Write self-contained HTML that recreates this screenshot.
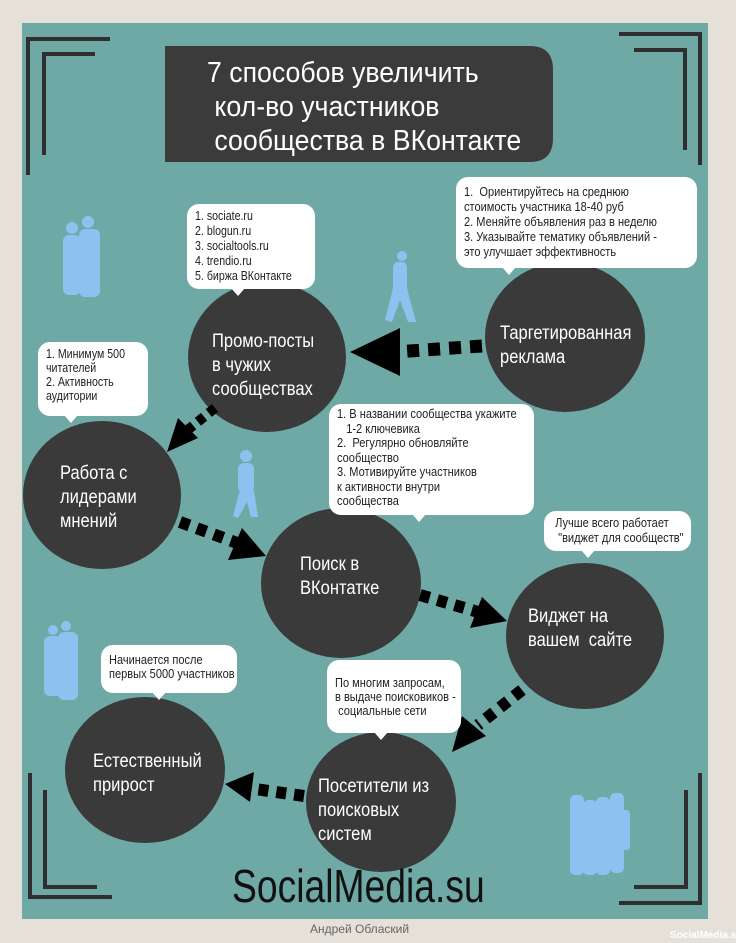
<!DOCTYPE html>
<html><head><meta charset="utf-8"><style>
*{margin:0;padding:0;box-sizing:border-box}
body{width:736px;height:943px;background:#e6e1d8;position:relative;overflow:hidden;font-family:"Liberation Sans",sans-serif}
#panel{position:absolute;left:22px;top:23px;width:686px;height:896px;background:#6fa9a6}
.t{position:absolute;white-space:nowrap;transform:scaleX(.87);transform-origin:0 0}
.ct{color:#fff;font-size:19px;line-height:24px}
.b{position:absolute;background:#fff;border-radius:12px;font-size:12px;line-height:15px;color:#222;padding:6px 8px}
.b span{display:block;white-space:nowrap;transform:scaleX(.85);transform-origin:0 0}
.b:after{content:"";position:absolute;bottom:-7px;left:var(--tx,50%);border-left:7px solid transparent;border-right:7px solid transparent;border-top:8px solid #fff;margin-left:-7px}
</style></head><body>
<div id="panel"></div>
<svg width="736" height="943" style="position:absolute;left:0;top:0">
<g fill="none" stroke="#2f2f2f" stroke-width="4">
<polyline points="110,39 28,39 28,175"/><polyline points="95,54 44,54 44,155"/>
<polyline points="619,34 700,34 700,165"/><polyline points="634,50 685,50 685,150"/>
<polyline points="30,773 30,897 112,897"/><polyline points="45,790 45,887 97,887"/>
<polyline points="700,773 700,903 619,903"/><polyline points="686,790 686,887 634,887"/>
</g>
<path d="M165,46 H530 Q553,46 553,70 V138 Q553,162 530,162 H165 Z" fill="#3b3b3b"/>
<g fill="#8ec0f0">
<circle cx="72" cy="228" r="6"/><rect x="63" y="235" width="18" height="60" rx="6"/>
<circle cx="88" cy="222" r="6"/><rect x="79" y="229" width="21" height="68" rx="6"/>
<circle cx="402" cy="256" r="5"/><rect x="393" y="262" width="14" height="30" rx="5"/><polygon points="393,288 407,288 416,322 408,322 400,300 392,322 385,320"/>
<circle cx="246" cy="456" r="6"/><rect x="238" y="463" width="16" height="30" rx="6"/><polygon points="240,490 254,490 258,517 251,517 247,502 238,518 233,516"/>
<circle cx="53" cy="630" r="5"/><rect x="44" y="636" width="18" height="60" rx="6"/>
<circle cx="66" cy="626" r="5"/><rect x="58" y="632" width="20" height="68" rx="6"/>
<rect x="570" y="795" width="14" height="80" rx="5"/><rect x="583" y="800" width="14" height="75" rx="5"/><rect x="596" y="797" width="14" height="78" rx="5"/><rect x="610" y="793" width="14" height="80" rx="5"/><rect x="620" y="810" width="10" height="40" rx="4"/>
</g>
<g fill="#3a3a3a">
<ellipse cx="267" cy="357" rx="79" ry="75"/>
<ellipse cx="565" cy="337" rx="80" ry="75"/>
<ellipse cx="102" cy="495" rx="79" ry="74"/>
<ellipse cx="341" cy="583" rx="80" ry="75"/>
<ellipse cx="585" cy="636" rx="79" ry="73"/>
<ellipse cx="145" cy="770" rx="80" ry="73"/>
<ellipse cx="381" cy="802" rx="75" ry="70"/>
</g>
<g fill="#000" stroke="#000">
<line x1="482" y1="346" x2="395" y2="352" stroke-width="13" stroke-dasharray="12,9"/>
<polygon points="350,352 400,328 400,376" stroke="none"/>
<line x1="215" y1="408" x2="185" y2="432" stroke-width="10" stroke-dasharray="8,6"/>
<polygon points="167,452 178,418 198,438" stroke="none"/>
<line x1="180" y1="522" x2="240" y2="544" stroke-width="12" stroke-dasharray="10,8"/>
<polygon points="266,556 228,560 242,528" stroke="none"/>
<line x1="420" y1="595" x2="485" y2="614" stroke-width="12" stroke-dasharray="10,8"/>
<polygon points="507,621 470,628 482,597" stroke="none"/>
<line x1="522" y1="690" x2="478" y2="725" stroke-width="12" stroke-dasharray="10,8"/>
<polygon points="452,752 462,716 486,736" stroke="none"/>
<line x1="304" y1="796" x2="255" y2="789" stroke-width="12" stroke-dasharray="10,8"/>
<polygon points="225,784 254,772 250,802" stroke="none"/>
</g>
</svg>
<div class="t" style="left:207px;top:56px;color:#fff;font-size:29px;line-height:34px;transform:scaleX(.92)">7 способов увеличить<br>&nbsp;кол-во участников<br>&nbsp;сообщества в ВКонтакте</div>

<div class="t ct" style="left:212px;top:330px">Промо-посты<br>в чужих<br>сообществах</div>
<div class="t ct" style="left:500px;top:322px">Таргетированная<br>реклама</div>
<div class="t ct" style="left:60px;top:462px">Работа с<br>лидерами<br>мнений</div>
<div class="t ct" style="left:300px;top:553px">Поиск в<br>ВКонтатке</div>
<div class="t ct" style="left:528px;top:605px">Виджет на<br>вашем&nbsp; сайте</div>
<div class="t ct" style="left:93px;top:750px">Естественный<br>прирост</div>
<div class="t ct" style="left:318px;top:775px">Посетители из<br>поисковых<br>систем</div>

<div class="b" style="left:187px;top:204px;width:128px;height:85px;--tx:40%;padding-top:5px;line-height:15px"><span style="font-size:12.5px">1. sociate.ru<br>2. blogun.ru<br>3. socialtools.ru<br>4. trendio.ru<br>5. биржа ВКонтакте</span></div>
<div class="b" style="left:456px;top:177px;width:241px;height:91px;--tx:22%;padding-top:7px;line-height:15px"><span style="font-size:13px">1.&nbsp; Ориентируйтесь на среднюю<br>стоимость участника 18-40 руб<br>2. Меняйте объявления раз в неделю<br>3. Указывайте тематику объявлений -<br>это улучшает эффективность</span></div>
<div class="b" style="left:38px;top:342px;width:110px;height:74px;--tx:30%;padding-top:5px;line-height:14px"><span style="font-size:12.5px">1. Минимум 500<br>читателей<br>2. Активность<br>аудитории</span></div>
<div class="b" style="left:329px;top:404px;width:205px;height:111px;--tx:44%;padding-top:3px;line-height:14.5px"><span style="font-size:13px">1. В названии сообщества укажите<br>&nbsp;&nbsp;&nbsp;1-2 ключевика<br>2.&nbsp; Регулярно обновляйте<br>сообщество<br>3. Мотивируйте участников<br>к активности внутри<br>сообщества</span></div>
<div class="b" style="left:544px;top:511px;width:147px;height:40px;--tx:30%;padding-top:4px;line-height:15px"><span style="font-size:13px">&nbsp;Лучше всего работает<br>&nbsp;&nbsp;"виджет для сообществ"</span></div>
<div class="b" style="left:101px;top:645px;width:136px;height:48px;--tx:43%;padding-top:8px;line-height:14px"><span style="font-size:13px">Начинается после<br>первых 5000 участников</span></div>
<div class="b" style="left:327px;top:660px;width:134px;height:73px;--tx:40%;padding-top:16px;line-height:14px"><span style="font-size:13px">По многим запросам,<br>в выдаче поисковиков -<br>&nbsp;социальные сети</span></div>

<div class="t" style="left:232px;top:862px;font-size:46px;line-height:48px;color:#111;transform:scaleX(.81)">SocialMedia.su</div>
<div class="t" style="left:310px;top:922px;font-size:12px;color:#666;transform:none">Андрей Облаский</div>
<div class="t" style="left:670px;top:930px;font-size:10px;color:#fff;font-weight:bold;transform:none">SocialMedia.su</div>
</body></html>
